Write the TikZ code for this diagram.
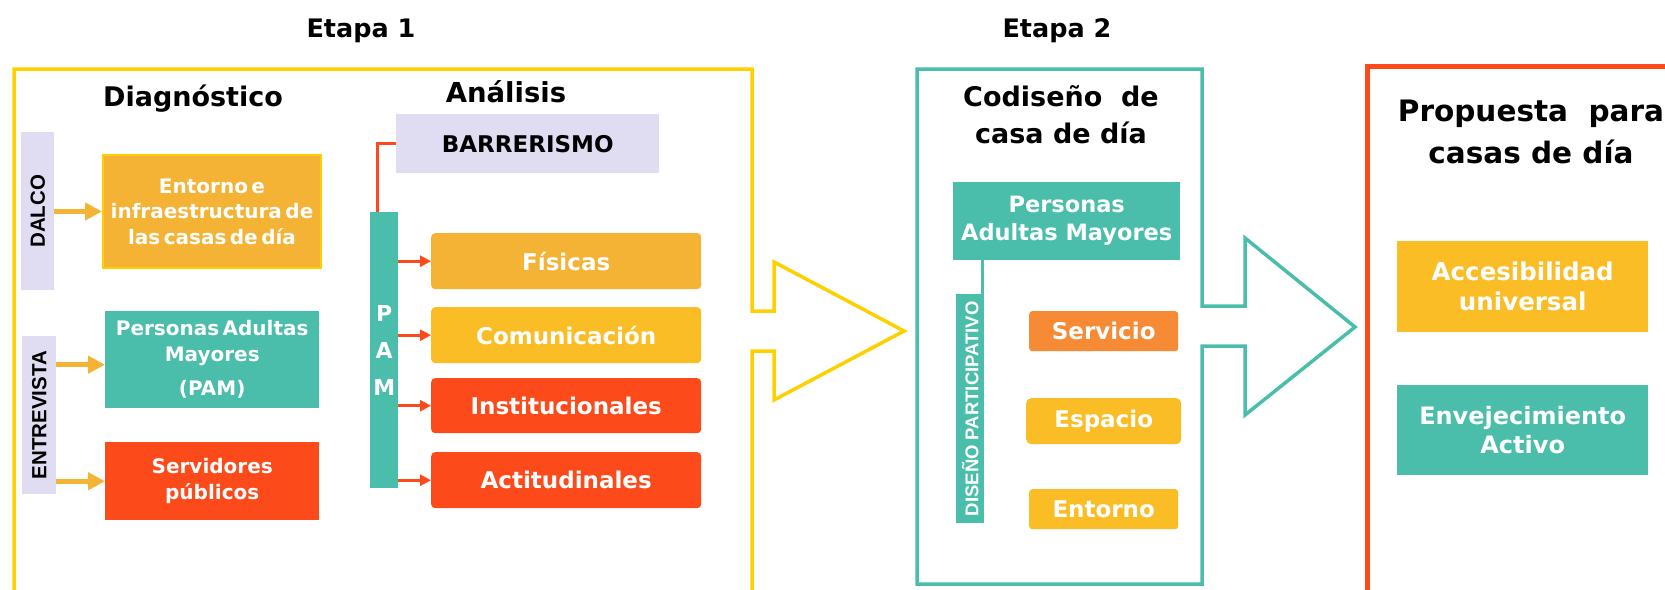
\documentclass[tikz,border=0pt]{standalone}
\usepackage{graphicx}
\usepackage{fontspec}
\setmainfont{DejaVu Sans}
\newfontfamily\tightf{DejaVu Sans}[WordSpace=0.5]
\newfontfamily\arialf{Liberation Sans}
\usetikzlibrary{arrows.meta}
\definecolor{tealc}{HTML}{4BBDAB}
\definecolor{ylw}{HTML}{FFD000}
\definecolor{gold}{HTML}{F5B335}
\definecolor{yel}{HTML}{FBBD26}
\definecolor{redo}{HTML}{FC4A1A}
\definecolor{orng}{HTML}{F78A35}
\definecolor{lav}{HTML}{E0DCF2}
\begin{document}
\begin{tikzpicture}[x=1pt,y=-1pt,
  bx/.style={anchor=north west, inner sep=0pt, align=center, text=white},
  lf/.style={font=\tightf\bfseries\fontsize{20}{25.5}\selectfont},
  rf/.style={font=\bfseries\fontsize{23}{27}\selectfont},
  title/.style={anchor=base, inner sep=0pt, font=\bfseries\fontsize{#1}{#1}\selectfont},
  yarrow/.style={gold, line width=5pt, -{Triangle[length=17pt,width=17pt]}},
  rarrow/.style={redo, line width=3pt, -{Triangle[length=11pt,width=11pt]}},
]
\useasboundingbox (0,0) rectangle (1665,589);

% frames
\draw[ylw, line width=3.5pt] (14,620) -- (14,69) -- (752,69) -- (752,311) -- (774,311) -- (774,262) -- (904,331) -- (774,400) -- (774,351) -- (752,351) -- (752,620);
\draw[tealc, line width=3.5pt] (917,69) -- (1202,69) -- (1202,306) -- (1245,306) -- (1245,238) -- (1355,327) -- (1245,415) -- (1245,346) -- (1202,346) -- (1202,584) -- (917,584) -- cycle;
\draw[redo, line width=5pt] (1367,620) -- (1367,66) -- (1700,66);

% titles
\node[title=25.5] (et1) at (361,37) {Etapa 1};
\node[title=25.5] (et2) at (1057,37) {Etapa 2};
\node[title=27] (diag) at (193,106) {Diagnóstico};
\node[title=27.5] (anal) at (506,102) {Análisis};
\node[inner sep=0pt, align=center, font=\bfseries\fontsize{27}{37}\selectfont] (codt) at (1061,115) {Codiseño\ \ de\\casa de día};
\node[inner sep=0pt, align=center, font=\bfseries\fontsize{29.5}{42}\selectfont] (prop) at (1531,132) {Propuesta\ \ para\\casas de día};

% Etapa 1 - diagnostico
\node[bx, fill=lav, minimum width=33pt, minimum height=158pt, text=black, font=\arialf\bfseries\fontsize{20.5}{20.5}\selectfont] (dalco) at (21,132) {\rotatebox{90}{DALCO}};
\node[bx, fill=lav, minimum width=34pt, minimum height=158pt, text=black, font=\arialf\bfseries\fontsize{20.5}{20.5}\selectfont] (entr) at (22,336) {\rotatebox{90}{ENTREVISTA}};
\node[bx, lf, fill=gold, draw=ylw, line width=2pt, minimum width=218pt, minimum height=113pt] (ent) at (102,154) {Entorno e\\infraestructura de\\las casas de día};
\node[bx, lf, fill=tealc, minimum width=214pt, minimum height=97pt] (pamb) at (105,311) {Personas Adultas\\Mayores\\[9pt](PAM)};
\node[bx, lf, fill=redo, minimum width=214pt, minimum height=78pt] (serv) at (105,442) {Servidores\\públicos};

\draw[yarrow] (dalco.east |- ent.west) -- (ent.west);
\draw[yarrow] ([yshift=-5pt]entr.east |- pamb.west) -- ([yshift=-5pt]pamb.west);
\draw[yarrow] (entr.east |- serv.west) -- (serv.west);

% Etapa 1 - analisis
\node[bx, fill=lav, minimum width=263pt, minimum height=59pt, text=black, font=\bfseries\fontsize{23}{23}\selectfont] (barr) at (396,114) {BARRERISMO};
\node[bx, fill=tealc, minimum width=28pt, minimum height=276pt, font=\bfseries\fontsize{22}{37}\selectfont] (pam) at (370,212) {P\\A\\M};
\node[bx, rf, fill=gold, rounded corners=4pt, minimum width=270pt, minimum height=56pt] (fis) at (431,233) {Físicas};
\node[bx, rf, fill=yel, rounded corners=4pt, minimum width=270pt, minimum height=56pt] (com) at (431,307) {Comunicación};
\node[bx, rf, fill=redo, rounded corners=4pt, minimum width=270pt, minimum height=55pt] (ins) at (431,378) {Institucionales};
\node[bx, rf, fill=redo, rounded corners=4pt, minimum width=270pt, minimum height=56pt] (act) at (431,452) {Actitudinales};

\draw[redo, line width=3pt] ([xshift=7pt]pam.north west) |- (barr.west);
\draw[rarrow] (pam.east |- fis.west) -- (fis.west);
\draw[rarrow] (pam.east |- com.west) -- (com.west);
\draw[rarrow] (pam.east |- ins.west) -- (ins.west);
\draw[rarrow] (pam.east |- act.west) -- (act.west);

% Etapa 2
\node[bx, fill=tealc, minimum width=227pt, minimum height=78pt, font=\bfseries\fontsize{22.5}{28}\selectfont] (pers) at (953,182) {Personas\\Adultas Mayores};
\node[bx, fill=tealc, minimum width=28pt, minimum height=229pt, font=\arialf\bfseries\fontsize{18.5}{18.5}\selectfont] (dis) at (956,294) {\rotatebox{90}{DISEÑO PARTICIPATIVO}};
\draw[tealc, line width=3.5pt] ([xshift=-2pt]dis.north east) -- ([xshift=-2pt]dis.north east |- pers.south);
\node[bx, rf, fill=orng, rounded corners=3pt, minimum width=149pt, minimum height=40pt] (svc) at (1029,311) {Servicio};
\node[bx, rf, fill=yel, rounded corners=5pt, minimum width=155pt, minimum height=46pt] (esp) at (1026,398) {Espacio};
\node[bx, rf, fill=yel, rounded corners=3pt, minimum width=149pt, minimum height=40pt] (ento) at (1029,489) {Entorno};

% Propuesta
\node[bx, fill=yel, minimum width=251pt, minimum height=91pt, font=\bfseries\fontsize{24.5}{30}\selectfont] (acc) at (1397,241) {Accesibilidad\\universal};
\node[bx, fill=tealc, minimum width=251pt, minimum height=90pt, font=\bfseries\fontsize{24}{29}\selectfont] (env) at (1397,385) {Envejecimiento\\Activo};
\end{tikzpicture}
\end{document}
